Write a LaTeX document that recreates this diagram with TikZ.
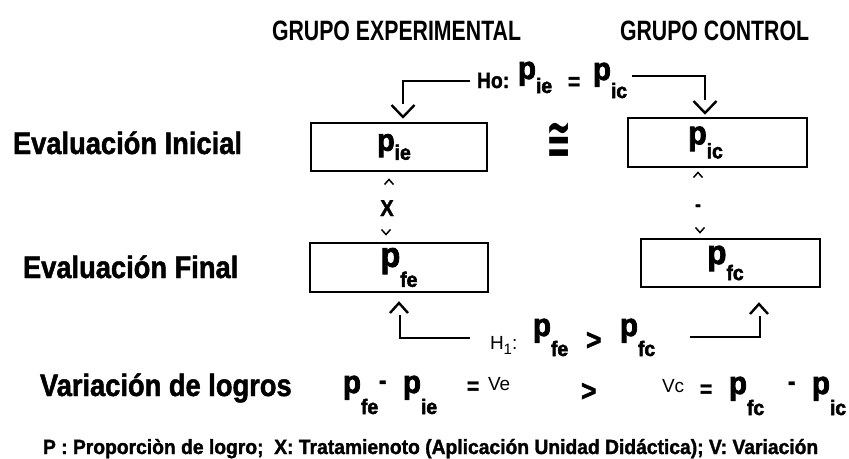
\documentclass[tikz,border=0pt]{standalone}
\usepackage{fontspec}
\usepackage{graphicx}
\setmainfont{Liberation Sans}
\newfontfamily\fR[FakeStretch=0.76]{Liberation Sans}
\newfontfamily\fN{Liberation Sans}
\newfontfamily\fB[FakeStretch=0.88,FakeBold=1.5]{Liberation Sans}
\newfontfamily\fF[FakeStretch=0.94,FakeBold=1.5]{Liberation Sans}
\newfontfamily\fP[FakeStretch=0.92,FakeBold=2.5]{Liberation Sans}
\newfontfamily\fD{DejaVu Sans}
\newcommand\pp[3]{{\fP\bfseries\fontsize{#3}{#3}\selectfont p}\raisebox{-#2pt}{\fP\bfseries\fontsize{21}{21}\selectfont #1}}
\begin{document}
\begin{tikzpicture}[x=1pt,y=-1pt,
 every node/.style={inner sep=0pt,outer sep=0pt},
 ttl/.style={anchor=base west,font=\fR\bfseries\fontsize{28}{28}\selectfont},
 lab/.style={anchor=base west,font=\fB\bfseries\fontsize{31}{31}\selectfont},
 sml/.style={anchor=base west,font=\fN\fontsize{19}{19}\selectfont},
 sym/.style={anchor=base west,font=\fB\bfseries\fontsize{26}{26}\selectfont},
 eqs/.style={anchor=base west,font=\fB\bfseries\fontsize{24}{24}\selectfont},
 note/.style={anchor=base west,font=\fF\bfseries\fontsize{20.5}{20.5}\selectfont},
 pv/.style={anchor=base west},
 box/.style={draw,line width=2.6pt,minimum width=176pt,minimum height=48pt},
 conn/.style={line width=2pt},
 chevline/.style={line width=2.4pt},
 carline/.style={line width=1.5pt},
 chevdn/.pic={\draw[chevline] (-11.5,-6) -- (0,6) -- (11.5,-6);},
 chevup/.pic={\draw[chevline] (-9,5) -- (0,-5) -- (9,5);},
 carup/.pic={\draw[carline] (-4.5,2.5) -- (0,-2.5) -- (4.5,2.5);},
 cardn/.pic={\draw[carline] (-4.5,-2.5) -- (0,2.5) -- (4.5,-2.5);}
]
\fill[white] (0,0) rectangle (849,458);
\useasboundingbox (0,0) rectangle (849,458);

% titles
\node[ttl] (t1) at (272,40) {GRUPO EXPERIMENTAL};
\node[ttl] (t2) at (620,40) {GRUPO CONTROL};

% row labels
\node[lab] (l1) at (13,154) {Evaluación Inicial};
\node[lab] (l2) at (23,278) {Evaluación Final};
\node[lab] (l3) at (40,396) {Variación de logros};

% boxes
\node[box] (bie) at (399,147) {\pp{ie}{9}{31}\hspace*{10pt}};
\node[box,minimum width=179pt,minimum height=49pt] (bic) at (717.5,142.5) {\pp{ic}{14}{33}\hspace*{24pt}};
\node[box,minimum width=178pt,minimum height=49pt] (bfe) at (399,267.5) {\pp{fe}{20}{35}};
\node[box,minimum width=179pt] (bfc) at (730.5,263) {\pp{fc}{16}{34}\hspace*{10pt}};

% congruence
\node (cong) at (559,141) {\scalebox{1}[1.9]{\fD\bfseries\fontsize{30}{30}\selectfont ≅}};

% Ho hypothesis
\node[anchor=base west,font=\fB\bfseries\fontsize{22}{22}\selectfont] (ho1) at (477,88) {Ho:};
\node[pv] (ho2) at (518,79) {\pp{ie}{14}{32}};
\node[eqs] (ho3) at (568,89.5) {=};
\node[pv] (ho4) at (593,80) {\pp{ic}{18}{32}};
\coordinate (hoL) at (403,104);
\coordinate (hoR) at (705,100);
\draw[conn] ([xshift=-7pt]ho1.west) -| (hoL);
\draw[conn] ([shift={(5,13)}]ho4.north east) -| (hoR);
\pic at (403,111) {chevdn};
\pic at (705,107) {chevdn};

% between boxes
\pic at (389,182) {carup};
\node[anchor=base,font=\fB\bfseries\fontsize{23}{23}\selectfont] (xx) at (387,216) {X};
\pic at (386,232) {cardn};
\pic at (698,175) {carup};
\node[anchor=base,font=\fB\bfseries\fontsize{20}{20}\selectfont] (dd) at (698,211) {-};
\pic at (700,230) {cardn};

% H1 hypothesis
\node[anchor=base west,font=\fN\fontsize{19}{19}\selectfont] (h1a) at (490,349) {H\raisebox{-5pt}{\fontsize{15}{15}\selectfont 1}:};
\node[pv] (h1b) at (533,336) {\pp{fe}{20}{32}};
\node[anchor=base west,font=\fB\bfseries\fontsize{30}{30}\selectfont] (h1g) at (586,350) {>};
\node[pv] (h1c) at (620,336) {\pp{fc}{20}{32}};
\coordinate (h1L) at (400,315);
\coordinate (h1R) at (760,316);
\draw[conn] ([shift={(-20,-7)}]h1a.west) -| (h1L);
\draw[conn] ([shift={(35,0)}]h1c.east) -| (h1R);
\pic at (399,308) {chevup};
\pic at (759,309) {chevup};

% variation row
\node[pv] (r1) at (343,393) {\pp{fe}{21}{32}};
\node[sym] (r2) at (379,389) {-};
\node[pv] (r3) at (403,393) {\pp{ie}{21}{32}};
\node[eqs] (r4) at (467,394) {=};
\node[sml] (r5) at (488,390) {Ve};
\node[sym,font=\fB\bfseries\fontsize{30}{30}\selectfont] (r6) at (581,401) {>};
\node[sml] (r7) at (662,392) {Vc};
\node[eqs] (r8) at (700,397) {=};
\node[pv] (r9) at (729,394) {\pp{fc}{21}{32}};
\node[sym] (r10) at (788,390) {-};
\node[pv] (r11) at (812,394) {\pp{ic}{21}{32}};

% footnote
\node[note] (fn) at (43,454) {P : Proporciòn de logro;\ \ X: Tratamienoto (Aplicación Unidad Didáctica); V: Variación};
\end{tikzpicture}
\end{document}
